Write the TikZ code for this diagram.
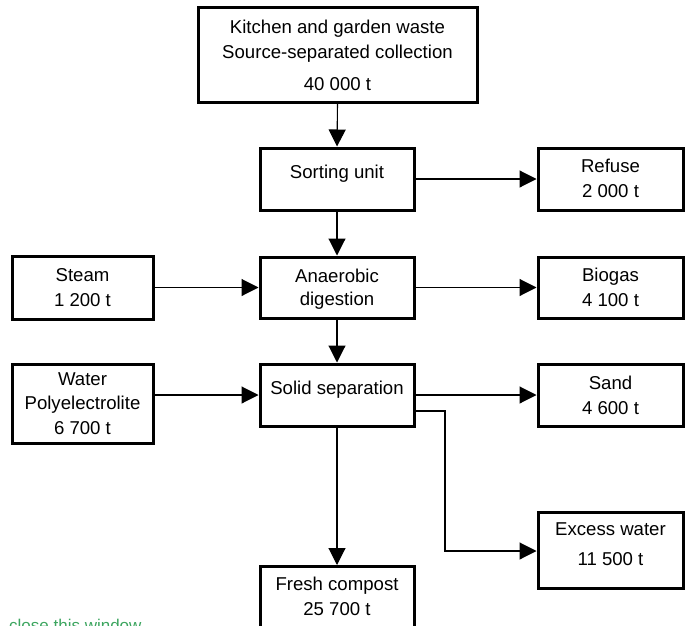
\documentclass[tikz,border=0pt]{standalone}
\usepackage{fontspec}
\setmainfont{Liberation Sans}
\usetikzlibrary{arrows.meta}
\definecolor{linkgreen}{RGB}{60,165,95}
\begin{document}
\begin{tikzpicture}[x=1pt,y=-1pt,
  box/.style={draw, line width=3pt, align=center, inner sep=0pt,
    font=\fontsize{18.6}{25}\selectfont},
  flow/.style={line width=1.1pt, -{Triangle[length=17pt,width=17pt]}},
  link/.style={line width=1.1pt}]
\useasboundingbox (0,0) rectangle (685,626);
\clip (0,0) rectangle (685,626);
% boxes
\node[box, minimum width=279pt, minimum height=94pt] (waste) at (337.5,55)
  {Kitchen and garden waste\\Source-separated collection\\[7pt]40 000 t};
\node[box, minimum width=154pt, minimum height=62pt, text depth=14pt] (sort) at (337,179) {Sorting unit};
\node[box, minimum width=145pt, minimum height=62pt, text depth=2pt] (refuse) at (610.5,179) {Refuse\\2 000 t};
\node[box, minimum width=141pt, minimum height=63pt, text depth=0pt] (steam) at (82.5,287.5) {Steam\\1 200 t};
\node[box, minimum width=154pt, minimum height=61pt, text depth=0pt] (anaer) at (337,287.5) {Anaerobic\\[-2pt]digestion};
\node[box, minimum width=145pt, minimum height=61pt, text depth=0pt] (biogas) at (610.5,287.5) {Biogas\\4 100 t};
\node[box, minimum width=141pt, minimum height=79pt, text depth=0pt] (water) at (82.5,403.5) {Water\\[-1pt]Polyelectrolite\\6 700 t};
\node[box, minimum width=154pt, minimum height=62pt, text depth=14pt] (solid) at (337,395) {Solid separation};
\node[box, minimum width=145pt, minimum height=62pt, text depth=0pt] (sand) at (610.5,395) {Sand\\4 600 t};
\node[box, minimum width=145pt, minimum height=76pt, text depth=12pt] (excess) at (610.5,550) {Excess water\\[5pt]11 500 t};
\node[box, anchor=north, minimum width=154pt, inner ysep=11pt, text depth=30pt] (fresh) at (337,565) {Fresh compost\\25 700 t};
\node[anchor=base west, inner sep=0pt, text=linkgreen, font=\fontsize{17}{20}\selectfont] (close) at (9,631) {close this window};
% connectors
\coordinate (elbow) at (445,551);
\draw[flow] (waste.south) -- (sort.north);
\draw[flow] (sort.east) -- (refuse.west);
\draw[flow] (sort.south) -- (anaer.north);
\draw[flow] (steam.east) -- (anaer.west);
\draw[flow] (anaer.east) -- (biogas.west);
\draw[flow] (anaer.south) -- (solid.north);
\draw[flow] (water.east |- solid.west) -- (solid.west);
\draw[flow] (solid.east) -- (sand.west);
\draw[flow] ([yshift=-16pt]solid.east) -| (elbow) -- (excess.west |- elbow);
\draw[flow] (solid.south) -- (fresh.north);
\end{tikzpicture}
\end{document}
